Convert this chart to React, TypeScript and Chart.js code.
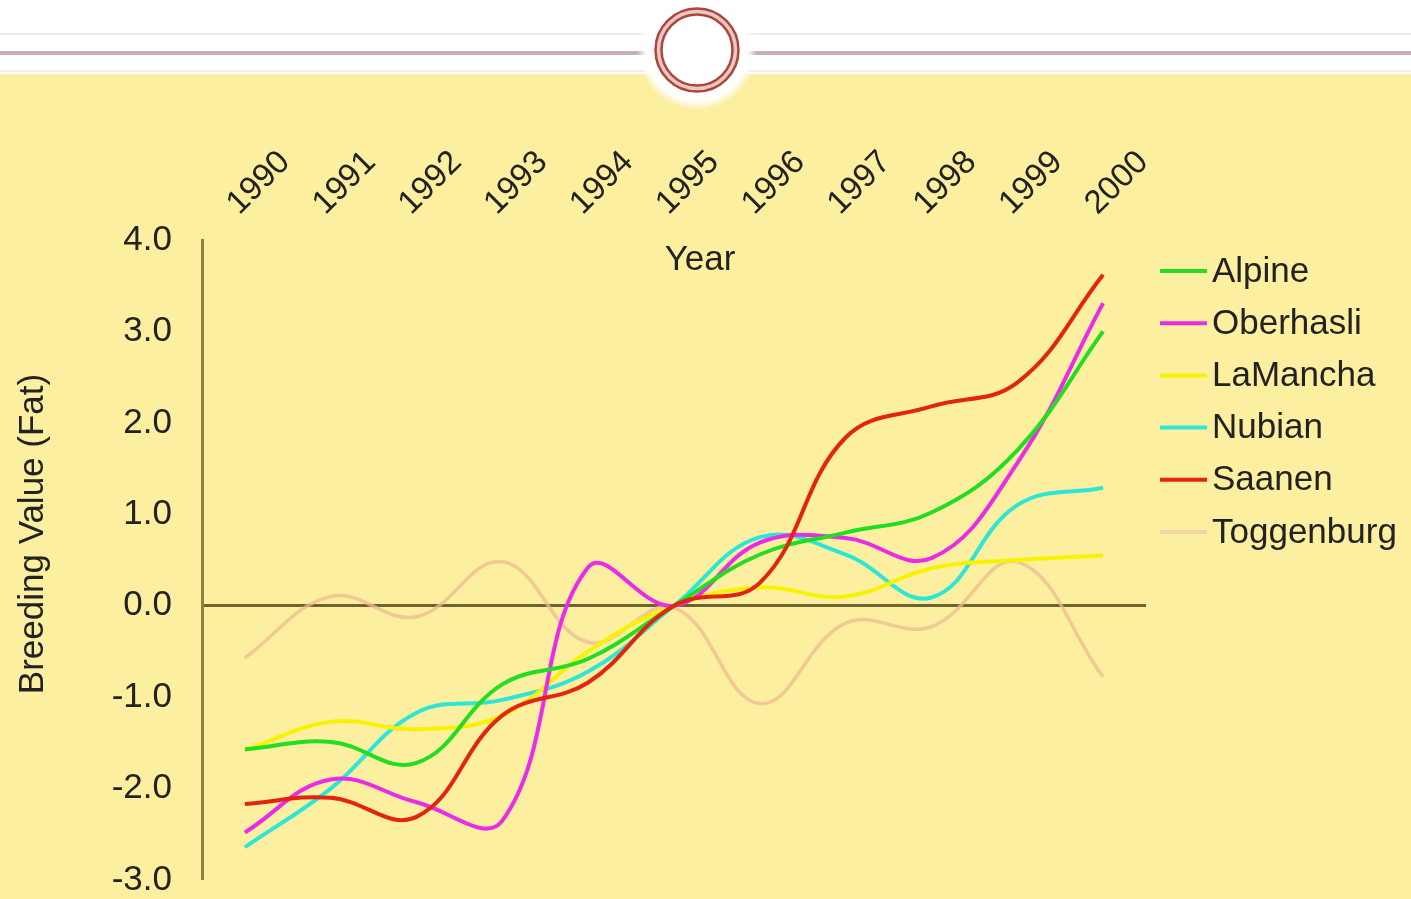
import React, { useEffect, useRef } from "react";
import { Chart, registerables } from "chart.js";

Chart.register(...registerables);

// ---- data ----
const years = ["1990", "1991", "1992", "1993", "1994", "1995", "1996", "1997", "1998", "1999", "2000"];
const alpine = [-1.57, -1.49, -1.72, -0.86, -0.58, 0, 0.56, 0.8, 1.02, 1.7, 3.0];
const oberhasli = [-2.48, -1.9, -2.15, -2.35, 0.42, 0, 0.69, 0.74, 0.52, 1.56, 3.31];
const laMancha = [-1.58, -1.27, -1.35, -1.2, -0.5, 0, 0.2, 0.1, 0.41, 0.5, 0.55];
const nubian = [-2.64, -2.0, -1.17, -1.03, -0.72, 0, 0.75, 0.56, 0.09, 1.1, 1.29];
const saanen = [-2.17, -2.1, -2.31, -1.2, -0.84, 0, 0.25, 1.84, 2.18, 2.44, 3.62];
const toggenburg = [-0.57, 0.1, -0.12, 0.48, -0.4, -0.02, -1.07, -0.19, -0.23, 0.48, -0.78];
const seriesNames = ["Alpine", "Oberhasli", "LaMancha", "Nubian", "Saanen", "Toggenburg"];
const yMin = -3;
const yMax = 4;
const yStep = 1;
const xTitle = "Year";
const yTitle = "Breeding Value (Fat)";

const FONT = '"Liberation Sans", Arial, sans-serif';
const BG = "#FCEFA0";
const TEXT = "#222222";

const decorationPlugin = {
  id: "decoration",
  beforeDraw(chart: any) {
    const ctx = chart.ctx as CanvasRenderingContext2D;
    const w = chart.width;
    const h = chart.height;
    ctx.save();
    ctx.fillStyle = BG;
    ctx.fillRect(0, 0, w, h);
    ctx.fillStyle = "#ffffff";
    ctx.fillRect(0, 0, w, 74);
    // faint lines
    ctx.fillStyle = "rgba(215,190,195,0.3)";
    ctx.fillRect(0, 33, w, 2);
    ctx.fillRect(0, 70, w, 2);
    // main rule
    ctx.fillStyle = "#C9AEB2";
    ctx.fillRect(0, 51, w, 4);
    // halo
    const cx = 697;
    const cy = 50;
    const g = ctx.createRadialGradient(cx, cy, 44, cx, cy, 60);
    g.addColorStop(0, "rgba(255,255,255,1)");
    g.addColorStop(0.5, "rgba(255,255,255,0.9)");
    g.addColorStop(1, "rgba(255,255,255,0)");
    ctx.fillStyle = g;
    ctx.beginPath();
    ctx.arc(cx, cy, 60, 0, Math.PI * 2);
    ctx.fill();
    // rings
    ctx.strokeStyle = "#EBC7C0";
    ctx.lineWidth = 6;
    ctx.beginPath();
    ctx.arc(cx, cy, 38.5, 0, Math.PI * 2);
    ctx.stroke();
    ctx.strokeStyle = "#A9473F";
    ctx.lineWidth = 2.5;
    ctx.beginPath();
    ctx.arc(cx, cy, 41.5, 0, Math.PI * 2);
    ctx.stroke();
    ctx.beginPath();
    ctx.arc(cx, cy, 35.5, 0, Math.PI * 2);
    ctx.stroke();
    ctx.restore();
  },
  afterDraw(chart: any) {
    const ctx = chart.ctx as CanvasRenderingContext2D;
    const area = chart.chartArea;
    ctx.save();
    ctx.fillStyle = TEXT;
    ctx.font = `35px ${FONT}`;
    // x title inside plot, under tick labels
    ctx.textAlign = "center";
    ctx.textBaseline = "alphabetic";
    ctx.fillText(xTitle, (area.left + area.right) / 2 + 26, area.top + 30);
    // y title
    ctx.save();
    ctx.translate(43, (area.top + area.bottom) / 2 - 26);
    ctx.rotate(-Math.PI / 2);
    ctx.fillText(yTitle, 0, 0);
    ctx.restore();
    // legend
    ctx.textAlign = "left";
    ctx.textBaseline = "middle";
    chart.data.datasets.forEach((ds: any, i: number) => {
      const y = area.top + 31 + i * 52.2;
      ctx.strokeStyle = ds.legendColor || ds.borderColor;
      ctx.lineWidth = 4;
      ctx.lineCap = "butt";
      ctx.beginPath();
      ctx.moveTo(area.right + 14, y);
      ctx.lineTo(area.right + 61, y);
      ctx.stroke();
      ctx.fillStyle = TEXT;
      ctx.fillText(ds.label, area.right + 66, y + 1);
    });
    ctx.restore();
  },
};

export default function App() {
  const ref = useRef<HTMLCanvasElement>(null);

  useEffect(() => {
    if (!ref.current) return;
    Chart.defaults.font.family = FONT;
    const values = [alpine, oberhasli, laMancha, nubian, saanen, toggenburg];
    const colors = ["#22DD22", "#E82CE8", "#F7F300", "#2EE6D6", "#E2250F", "rgba(236,188,145,0.75)"];
    const legendColors = ["#22DD22", "#E82CE8", "#F7F300", "#2EE6D6", "#E2250F", "#F3D6A6"];
    const chart = new Chart(ref.current, {
      type: "line",
      data: {
        labels: years,
        datasets: seriesNames.map((name, i) => ({
          label: name,
          data: values[i],
          borderColor: colors[i],
          legendColor: legendColors[i],
          borderWidth: i === 5 ? 3.5 : 4,
          pointRadius: 0,
          tension: 0.4,
          fill: false,
          order: i === 5 ? 10 : i === 4 ? -1 : i,
        })) as any,
      },
      options: {
        responsive: false,
        animation: false,
        devicePixelRatio: 1,
        layout: { padding: { left: 0, top: 0, right: 265, bottom: 19 } },
        plugins: {
          legend: { display: false },
          tooltip: { enabled: false },
          title: { display: false },
        },
        scales: {
          x: {
            type: "category",
            position: "top",
            offset: true,
            grid: { display: false, drawTicks: false },
            border: { display: false },
            ticks: {
              autoSkip: false,
              maxRotation: 45,
              minRotation: 45,
              padding: 17,
              labelOffset: 16,
              color: TEXT,
              font: { size: 33, family: FONT },
            },
            afterFit: (s: any) => {
              s.height = 240;
              s.paddingLeft = 0;
              s.paddingRight = 0;
            },
          },
          y: {
            type: "linear",
            min: yMin,
            max: yMax,
            ticks: {
              stepSize: yStep,
              padding: 30,
              color: TEXT,
              font: { size: 35, family: FONT },
              callback: (v: any) => Number(v).toFixed(1),
            },
            grid: {
              drawTicks: false,
              color: (c: any) => (c.tick && c.tick.value === 0 ? "#6E6430" : "rgba(0,0,0,0)"),
              lineWidth: (c: any) => (c.tick && c.tick.value === 0 ? 3 : 0),
            },
            border: { display: true, color: "#8E8040", width: 3 },
            afterFit: (s: any) => {
              s.width = 202;
              s.paddingTop = 0;
              s.paddingBottom = 0;
            },
          },
        },
      } as any,
      plugins: [decorationPlugin],
    });
    return () => chart.destroy();
  }, []);

  return (
    <div style={{ position: "fixed", left: 0, top: 0, width: 1411, height: 899, background: BG }}>
      <canvas ref={ref} width={1411} height={899} style={{ display: "block", width: 1411, height: 899 }} />
    </div>
  );
}
